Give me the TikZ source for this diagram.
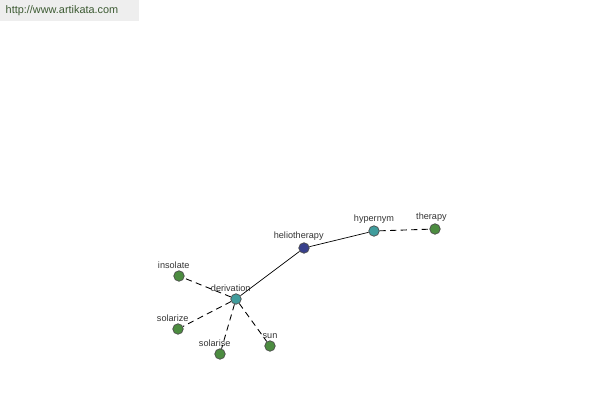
\documentclass[tikz,border=0pt]{standalone}
\usepackage{fontspec}
\setmainfont{Liberation Sans}
\usepackage{tikz}

\definecolor{tealnode}{RGB}{64,156,156}
\definecolor{greennode}{RGB}{76,140,64}
\definecolor{bluenode}{RGB}{56,64,140}
\definecolor{bannergray}{RGB}{238,238,238}
\definecolor{bannertext}{RGB}{60,90,50}

\tikzset{
  word/.style={circle, draw=black!70, line width=0.4pt, minimum size=0.21cm, inner sep=0pt},
  wlabel/.style={font=\fontsize{5.2}{6}\selectfont, text=black!80, inner sep=1pt},
  dlink/.style={dash pattern=on 3.5pt off 2.5pt, line width=0.5pt}
}

\begin{document}
\begin{tikzpicture}[x=0.02cm, y=-0.02cm]

\useasboundingbox (0,0) rectangle (600,400);
\fill[bannergray] (0,0) rectangle (139,21);
\node[font=\fontsize{6.2}{7}\selectfont, text=bannertext] (site) at (62,11) {http://www.artikata.com};

% the words
\node[word, fill=bluenode] (helio) at (304,248) {};
\node[word, fill=tealnode] (hyper) at (374,231) {};
\node[word, fill=greennode] (therapy) at (435,229) {};
\node[word, fill=tealnode] (deriv) at (236,299) {};
\node[word, fill=greennode] (insolate) at (179,276) {};
\node[word, fill=greennode] (solarize) at (178,329) {};
\node[word, fill=greennode] (solarise) at (220,354) {};
\node[word, fill=greennode] (sun) at (270,346) {};

\draw (helio) node[wlabel, above=3pt, xshift=-3pt] {heliotherapy};
\draw (hyper) node[wlabel, above=3pt] {hypernym};
\draw (therapy) node[wlabel, above=3pt, xshift=-2pt] {therapy};
\draw (deriv) node[wlabel, above=3pt, xshift=-3pt] {derivation};
\draw (insolate) node[wlabel, above=3pt, xshift=-3pt] {insolate};
\draw (solarize) node[wlabel, above=3pt, xshift=-3pt] {solarize};
\draw (solarise) node[wlabel, above=3pt, xshift=-3pt] {solarise};
\draw (sun) node[wlabel, above=3pt] {sun};

% links
\draw[line width=0.4pt] (helio) -- (hyper);
\draw[line width=0.4pt] (helio) -- (deriv);
\draw[dlink] (hyper) -- (therapy);
\draw[dlink] (deriv) -- (insolate);
\draw[dlink] (deriv) -- (solarize);
\draw[dlink] (deriv) -- (solarise);
\draw[dlink] (deriv) -- (sun);

\end{tikzpicture}
\end{document}
